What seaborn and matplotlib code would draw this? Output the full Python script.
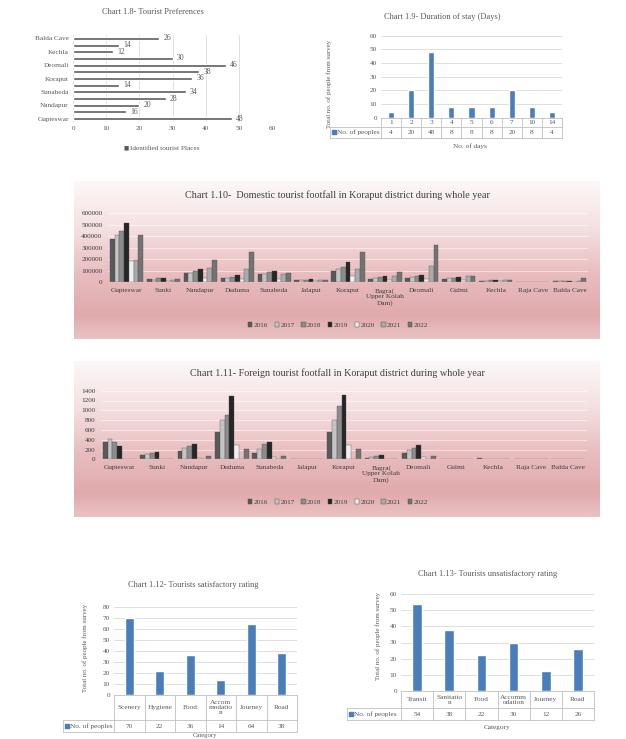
import numpy as np
import pandas as pd
import matplotlib
matplotlib.use("Agg")
import matplotlib.pyplot as plt
import seaborn as sns
from matplotlib.colors import LinearSegmentedColormap
from matplotlib.patches import Rectangle

# ---------------- data ----------------
places = ["Gupteswar", "Sunki", "Nandapur", "Duduma", "Sunabeda", "Jalaput", "Koraput",
          "Bagra(\nUpper Kolah\nDam)", "Deomali", "Gulmi", "Kechla", "Raja Cave", "Balda Cave"]
pref_counts = [48, 16, 20, 28, 34, 14, 36, 38, 46, 30, 12, 14, 26]

days = ["1", "2", "3", "4", "5", "6", "7", "10", "14"]
stay_people = [4, 20, 48, 8, 8, 8, 20, 8, 4]

years = ["2016", "2017", "2018", "2019", "2020", "2021", "2022"]
dom_2016 = [374000, 26000, 78000, 35000, 70000, 17000, 100000, 29000, 35000, 29000, 12000, 6000, 8000]
dom_2017 = [412000, 20000, 80000, 35000, 75000, 17000, 113000, 35000, 43000, 35000, 12000, 6000, 8000]
dom_2018 = [446000, 35000, 96000, 43000, 87000, 23000, 130000, 43000, 55000, 35000, 17000, 6000, 8000]
dom_2019 = [516000, 37000, 113000, 61000, 96000, 26000, 175000, 55000, 64000, 43000, 17000, 6000, 8000]
dom_2020 = [186000, 12000, 35000, 26000, 26000, 12000, 53000, 23000, 29000, 20000, 9000, 3000, 5000]
dom_2021 = [194000, 20000, 122000, 113000, 70000, 17000, 115000, 55000, 142000, 55000, 17000, 5000, 15000]
dom_2022 = [412000, 26000, 194000, 261000, 78000, 23000, 262000, 90000, 325000, 55000, 17000, 6000, 35000]

for_2016 = [355, 80, 170, 555, 125, 0, 555, 20, 130, 0, 27, 0, 0]
for_2017 = [415, 100, 225, 800, 205, 0, 800, 40, 180, 0, 0, 0, 0]
for_2018 = [355, 130, 270, 905, 310, 0, 1085, 65, 230, 0, 0, 0, 0]
for_2019 = [272, 150, 310, 1290, 354, 0, 1310, 90, 295, 0, 0, 0, 0]
for_2020 = [0, 0, 20, 295, 45, 0, 295, 0, 48, 0, 0, 0, 0]
for_2021 = [0, 0, 0, 0, 0, 0, 0, 0, 0, 0, 0, 0, 0]
for_2022 = [0, 0, 65, 210, 65, 0, 210, 0, 68, 0, 0, 0, 0]

sat_cats = ["Scenery", "Hygiene", "Food", "Accom\nmodatio\nn", "Journey", "Road"]
sat_vals = [70, 22, 36, 14, 64, 38]
unsat_cats = ["Transit", "Sanitatio\nn", "Food", "Accomm\nodation", "Journey", "Road"]
unsat_vals = [54, 38, 22, 30, 12, 26]

# ---------------- setup ----------------
W, H = 626, 739
sns.set_theme(style="white")
plt.rcParams["font.family"] = ["Liberation Serif", "DejaVu Serif"]
TXT = "#595959"
GRID = "#d9d9d9"
BLUE = "#4a7ebb"
fig = plt.figure(figsize=(W / 100, H / 100), dpi=100)


def add_ax(x0, y0, x1, y1, **kw):
    return fig.add_axes([x0 / W, 1 - y1 / H, (x1 - x0) / W, (y1 - y0) / H], **kw)


def ftext(x, y, s, **kw):
    kw.setdefault("color", TXT)
    return fig.text(x / W, 1 - y / H, s, **kw)


def data_table(box, cell_left, row1, row2, cats, vals, fs=5.2):
    x0, y0, x1, y1 = box
    n = len(cats)
    tax = add_ax(cell_left, y1, x1, y1 + row1 + row2)
    upp = n / (x1 - x0)
    left = -0.5 - (x0 - cell_left) * upp
    tax.set_xlim(left, n - 0.5)
    tax.set_ylim(row1 + row2, 0)
    tax.axis("off")
    kw = dict(color="#bfbfbf", lw=0.6, clip_on=False)
    for i in range(n + 1):
        tax.plot([i - 0.5, i - 0.5], [0, row1 + row2], **kw)
    tax.plot([left, left], [row1, row1 + row2], **kw)
    tax.plot([-0.5, n - 0.5], [0, 0], **kw)
    tax.plot([left, n - 0.5], [row1, row1], **kw)
    tax.plot([left, n - 0.5], [row1 + row2, row1 + row2], **kw)
    for i, (c, v) in enumerate(zip(cats, vals)):
        tax.text(i, row1 / 2, c, ha="center", va="center", fontsize=fs, color=TXT, linespacing=1.0)
        tax.text(i, row1 + row2 / 2, str(v), ha="center", va="center", fontsize=fs, color=TXT)
    tax.scatter([left + 4 * upp], [row1 + row2 / 2], marker="s", s=5, color=BLUE, clip_on=False)
    tax.text(left + 7 * upp, row1 + row2 / 2, "No. of peoples", ha="left", va="center", fontsize=fs, color=TXT)


def simple_bar(box, cats, vals, ymax, step):
    x0, y0, x1, y1 = box
    ax = add_ax(x0, y0, x1, y1)
    sns.barplot(x=list(range(len(cats))), y=vals, color=BLUE, saturation=1, width=0.3, ax=ax)
    ax.set_ylim(0, ymax)
    ax.set_xlim(-0.5, len(cats) - 0.5)
    ax.set_yticks(np.arange(0, ymax + 1, step))
    ax.set_xticks([])
    ax.grid(axis="y", color=GRID, lw=0.6)
    ax.set_axisbelow(True)
    for s in ax.spines.values():
        s.set_visible(False)
    ax.tick_params(axis="y", labelsize=5.2, colors=TXT, length=0, pad=3)
    ax.set_xlabel("")
    ax.set_ylabel("")
    return ax


# ---------------- Chart 1.8 ----------------
ax = add_ax(73, 35, 272, 122)
order_idx = list(range(len(places)))[::-1]
pref_names = [places[i].replace("\n", " ") for i in order_idx]
pref_vals = [pref_counts[i] for i in order_idx]
sns.barplot(x=pref_vals, y=pref_names, orient="h", color="#595959", saturation=1, width=0.45, ax=ax)
ax.set_xlim(0, 60)
ax.set_xticks(range(0, 61, 10))
ax.set_yticks(range(len(pref_names)))
ax.set_yticklabels([n if i % 2 == 0 else "" for i, n in enumerate(pref_names)])
ax.grid(axis="x", color=GRID, lw=0.6)
ax.set_axisbelow(True)
for s in ax.spines.values():
    s.set_visible(False)
ax.tick_params(labelsize=5.2, colors=TXT, length=0, pad=3)
ax.bar_label(ax.containers[0], padding=3, fontsize=5.5, color=TXT)
ax.set_xlabel("")
ax.set_ylabel("")
ftext(153, 12, "Chart 1.8- Tourist Preferences", ha="center", va="center", fontsize=6)
ftext(123, 148, "■", ha="left", va="center", fontsize=4, color="#595959", family=["DejaVu Sans"])
ftext(130, 148, "Identified tourist Places", ha="left", va="center", fontsize=5.2)

# ---------------- Chart 1.9 ----------------
box9 = (381, 35.7, 562, 117.7)
simple_bar(box9, days, stay_people, 60, 10)
data_table(box9, 330, 9, 11, days, stay_people)
ftext(442, 17, "Chart 1.9- Duration of stay (Days)", ha="center", va="center", fontsize=6)
ftext(470, 146, "No. of days", ha="center", va="center", fontsize=5.2)
ftext(329, 84, "Total no. of people from survey", ha="center", va="center", rotation=90, fontsize=5)

# ---------------- gradient panels ----------------
grad = LinearSegmentedColormap.from_list(
    "pinkgrad", [(0, "#fdf8f8"), (0.3, "#f5e0e1"), (0.6, "#e8bcbe"), (0.85, "#e0aaac"), (1.0, "#eac3c4")])


def panel(x0, y0, x1, y1):
    bg = add_ax(x0, y0, x1, y1)
    bg.imshow(np.linspace(0, 1, 256).reshape(-1, 1), aspect="auto", cmap=grad, extent=(0, 1, 1, 0))
    bg.set_xlim(0, 1)
    bg.set_ylim(1, 0)
    bg.axis("off")
    bg.set_zorder(-5)


year_colors = ["#595959", "#c4c4c4", "#8c8c8c", "#262626", "#efefef", "#ababab", "#737373"]


def grouped(box, series, ymax, step, fmt_title, title_xy, legend_y, label_pad):
    x0, y0, x1, y1 = box
    ax = add_ax(x0, y0, x1, y1)
    ax.patch.set_alpha(0)
    rows = []
    for yr, vals in zip(years, series):
        for p, v in zip(places, vals):
            rows.append({"place": p, "year": yr, "value": v})
    df = pd.DataFrame(rows)
    sns.barplot(data=df, x="place", y="value", hue="year", palette=year_colors, saturation=1,
                width=0.9, errorbar=None, edgecolor="#4a4a4a", linewidth=0.25, legend=False, ax=ax)
    ax.set_ylim(0, ymax)
    ax.set_xlim(-0.5, len(places) - 0.5)
    ax.set_yticks(np.arange(0, ymax + 1, step))
    ax.grid(axis="y", color="white", lw=0.6, alpha=0.6)
    ax.set_axisbelow(True)
    for s in ax.spines.values():
        s.set_visible(False)
    ax.axhline(0, color="#e6e6e6", lw=0.9)
    ax.tick_params(axis="y", labelsize=5.2, colors="#404040", length=0, pad=label_pad)
    ax.tick_params(axis="x", labelsize=5.2, colors="#404040", length=0, pad=4)
    ax.set_xticks(range(len(places)))
    ax.set_xticklabels(places, linespacing=1.15, va="top")
    ax.set_xlabel("")
    ax.set_ylabel("")
    ftext(title_xy[0], title_xy[1], fmt_title, ha="center", va="center", fontsize=7.3,
          color="#404040")
    handles = [Rectangle((0, 0), 1, 1, facecolor=c, edgecolor="#4a4a4a", lw=0.3) for c in year_colors]
    fig.legend(handles, years, loc="center", bbox_to_anchor=(338 / W, 1 - legend_y / H), ncol=7,
               frameon=False, fontsize=5.2, handlelength=0.6, handleheight=0.6, handletextpad=0.2,
               columnspacing=0.9, labelcolor="#404040")
    return ax


panel(74, 181, 600, 339)
grouped((108, 213.3, 588, 282.3), [dom_2016, dom_2017, dom_2018, dom_2019, dom_2020, dom_2021, dom_2022],
        600000, 100000, "Chart 1.10-  Domestic tourist footfall in Koraput district during whole year",
        (337, 195), 325, 4)

panel(74, 361, 600, 517)
grouped((101, 390.7, 587, 459.3), [for_2016, for_2017, for_2018, for_2019, for_2020, for_2021, for_2022],
        1400, 200, "Chart 1.11- Foreign tourist footfall in Koraput district during whole year",
        (337, 373), 502, 4)

# ---------------- Chart 1.12 ----------------
box12 = (114, 606.7, 297, 695)
simple_bar(box12, sat_cats, sat_vals, 80, 10)
data_table(box12, 63, 25, 12.3, sat_cats, sat_vals)
ftext(193, 585, "Chart 1.12- Tourists satisfactory rating", ha="center", va="center", fontsize=6)
ftext(85, 647.5, "Total no. of people from survey", ha="center", va="center", rotation=90, fontsize=5)
ftext(205, 735.5, "Category", ha="center", va="center", fontsize=4.8)

# ---------------- Chart 1.13 ----------------
box13 = (401, 594.3, 594, 690.7)
simple_bar(box13, unsat_cats, unsat_vals, 60, 10)
data_table(box13, 347, 17.6, 11.7, unsat_cats, unsat_vals)
ftext(488, 574, "Chart 1.13- Tourists unsatisfactory rating", ha="center", va="center", fontsize=6)
ftext(378, 636, "Total no. of people from survey", ha="center", va="center", rotation=90, fontsize=5)
ftext(497, 727, "Category", ha="center", va="center", fontsize=5.2)

fig.savefig("out.png", dpi=100)
